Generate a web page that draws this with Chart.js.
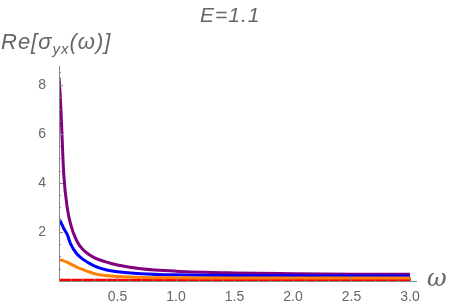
<!DOCTYPE html>
<html>
<head>
<meta charset="utf-8">
<script src="https://cdn.jsdelivr.net/npm/chart.js@4.4.0/dist/chart.umd.min.js"></script>
<style>
  html, body { margin: 0; padding: 0; background: #fff; }
  #wrap { position: relative; width: 450px; height: 301px; font-family: 'Liberation Sans', Arial, sans-serif; }
  canvas { position: absolute; left: 0; top: 0; }
  .lbl { position: absolute; color: #666; font-style: italic; white-space: nowrap; line-height: 1; }
  #title { left: 200px; top: 4px; font-size: 21px; letter-spacing: 1px; }
  #ylab { left: 1px; top: 31px; font-size: 22px; letter-spacing: 1px; }
  #ylab sub { font-size: 15px; vertical-align: -5px; }
  #xlab { left: 427px; top: 266px; font-size: 24px; font-family: 'DejaVu Serif', serif; }
</style>
</head>
<body>
<div id="wrap">
  <canvas id="c" width="450" height="301"></canvas>
  <div class="lbl" id="title">E=1.1</div>
  <div class="lbl" id="ylab">Re[σ<sub>yx</sub>(ω)]</div>
  <div class="lbl" id="xlab">ω</div>
</div>
<script>
/* Re[sigma_yx(omega)] para E = 1.1 */
const OMEGA   = [0, 0.01, 0.02, 0.04, 0.07, 0.1, 0.15, 0.2, 0.3, 0.4, 0.5, 0.7, 1.0, 1.5, 2.0, 2.5, 3.0];
const PURPURA = [8.3, 7.6, 6.6, 4.4, 3.0, 2.3, 1.65, 1.3, 0.95, 0.78, 0.65, 0.5, 0.4, 0.33, 0.3, 0.28, 0.27];
const AZUL    = [2.5, 2.45, 2.35, 2.15, 1.9, 1.5, 1.12, 0.9, 0.62, 0.46, 0.38, 0.3, 0.25, 0.22, 0.21, 0.2, 0.2];
const NARANJA = [0.86, 0.86, 0.85, 0.82, 0.76, 0.69, 0.57, 0.47, 0.3, 0.22, 0.18, 0.14, 0.13, 0.12, 0.12, 0.12, 0.12];
const ROJO    = [0.03, 0.03, 0.03, 0.03, 0.03, 0.03, 0.03, 0.03, 0.03, 0.03, 0.03, 0.03, 0.03, 0.03, 0.03, 0.03, 0.03];
const X_TICKS = [0.5, 1.0, 1.5, 2.0, 2.5, 3.0];
const Y_TICKS = [2, 4, 6, 8];

const pts = arr => arr.map((v, i) => ({ x: OMEGA[i], y: v }));
const serie = (data, color) => ({
  data: pts(data), borderColor: color, borderWidth: 3, pointRadius: 0,
  fill: false, cubicInterpolationMode: 'monotone',
});

const AX = '#888';

// ejes estilo Mathematica: se cruzan en el origen, marcas hacia adentro
const ejes = {
  id: 'ejes',
  afterDatasetsDraw(chart) {
    const { ctx, scales: { x, y } } = chart;
    const x0 = x.getPixelForValue(0), y0 = y.getPixelForValue(0);
    ctx.save();
    ctx.strokeStyle = AX;
    ctx.lineWidth = 1;
    ctx.beginPath();
    ctx.moveTo(x0 + 0.5, y.top); ctx.lineTo(x0 + 0.5, y0);
    ctx.moveTo(x0, y0 + 0.5); ctx.lineTo(x.right, y0 + 0.5);
    for (let i = 1; i <= 30; i++) {
      const px = Math.round(x.getPixelForValue(i / 10)) + 0.5;
      const len = i % 5 === 0 ? 4 : 2;
      ctx.moveTo(px, y0); ctx.lineTo(px, y0 - len);
    }
    for (let i = 1; i <= 17; i++) {
      const py = Math.round(y.getPixelForValue(i / 2)) + 0.5;
      const len = i % 4 === 0 ? 4 : 2;
      ctx.moveTo(x0, py); ctx.lineTo(x0 + len, py);
    }
    ctx.stroke();
    ctx.restore();
  },
};

new Chart(document.getElementById('c'), {
  type: 'line',
  data: {
    datasets: [
      serie(NARANJA, '#ff8000'),
      serie(AZUL, '#0000ff'),
      serie(PURPURA, '#800080'),
      serie(ROJO, '#ff0000'),
    ],
  },
  options: {
    responsive: false, animation: false,
    layout: { padding: { top: 66, right: 33, left: 0, bottom: 0 } },
    plugins: { legend: { display: false }, tooltip: { enabled: false } },
    scales: {
      x: {
        type: 'linear', min: 0, max: 3.06,
        afterBuildTicks: s => { s.ticks = X_TICKS.map(v => ({ value: v })); },
        afterFit: s => { s.height = 20; },
        grid: { display: false }, border: { display: false },
        ticks: { color: '#666', font: { size: 14, family: "'Liberation Sans', Arial" }, padding: 0, maxRotation: 0,
          callback: v => Number(v).toFixed(1) },
      },
      y: {
        type: 'linear', min: 0, max: 8.76,
        afterBuildTicks: s => { s.ticks = Y_TICKS.map(v => ({ value: v })); },
        afterFit: s => { s.width = 59; },
        grid: { display: false }, border: { display: false },
        ticks: { color: '#666', font: { size: 14, family: "'Liberation Sans', Arial" }, padding: 5 },
      },
    },
  },
  plugins: [ejes],
});
</script>
</body>
</html>
